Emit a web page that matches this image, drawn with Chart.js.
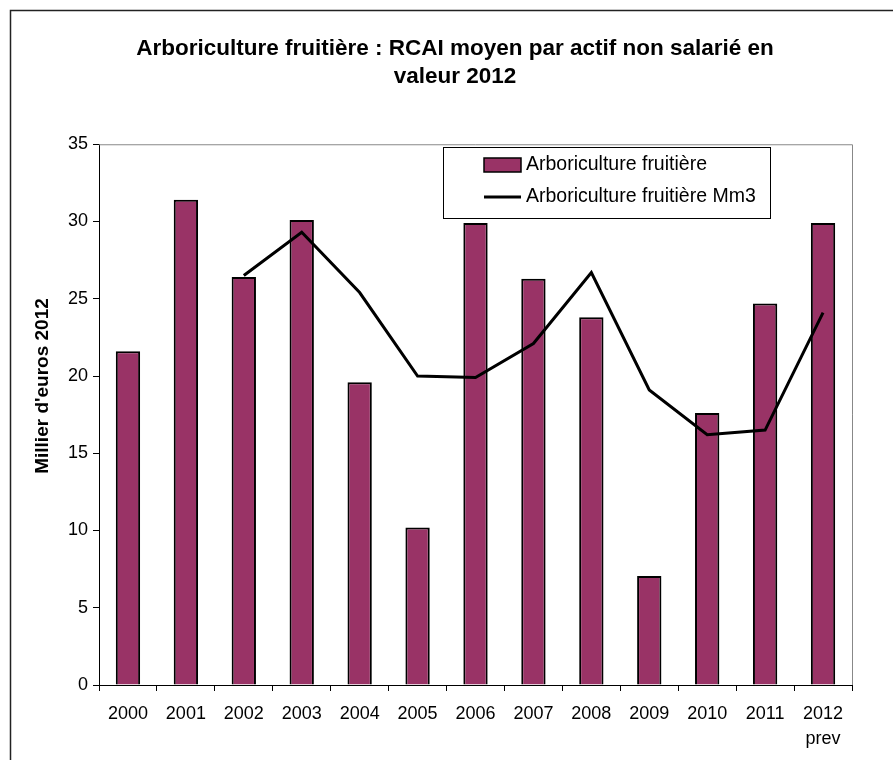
<!DOCTYPE html>
<html>
<head>
<meta charset="utf-8">
<script src="https://cdn.jsdelivr.net/npm/chart.js@4.4.1/dist/chart.umd.min.js"></script>
<style>
  html, body { margin: 0; padding: 0; background: #fff; }
  #wrap { width: 893px; height: 760px; position: relative; }
</style>
</head>
<body>
<div id="wrap"><canvas id="mycanvas" width="893" height="760"></canvas></div>
<script>
var annees = ["2000", "2001", "2002", "2003", "2004", "2005", "2006",
              "2007", "2008", "2009", "2010", "2011", ["2012", "prev"]];
var rcai = [21.6, 31.4, 26.4, 30.1, 19.6, 10.2, 29.9, 26.3, 23.8, 7.05, 17.6, 24.7, 29.9];
var moyenneMobile = [null, null, 26.5, 29.3, 25.4, 20.0, 19.9, 22.1, 26.7, 19.1, 16.2, 16.5, 24.1];
var titre = ["Arboriculture fruitière : RCAI moyen par actif non salarié en", "valeur 2012"];
var titreY = "Millier d'euros 2012";

var police = "'Liberation Sans', Arial, sans-serif";
Chart.defaults.font.family = police;
Chart.defaults.color = '#000';

// cadre, titre vertical, bord du graphique et legende
var decor = {
	id: 'decor',
	beforeDraw: function(chart) {
		var c = chart.ctx;
		c.save();
		c.fillStyle = '#fff';
		c.fillRect(0, 0, chart.width, chart.height);
		c.strokeStyle = '#222';
		c.lineWidth = 1.5;
		c.beginPath();
		c.moveTo(10.5, chart.height + 5);
		c.lineTo(10.5, 10.5);
		c.lineTo(chart.width + 5, 10.5);
		c.stroke();

		c.translate(43, 386);
		c.rotate(-Math.PI / 2);
		c.fillStyle = '#000';
		c.font = 'bold 19px ' + police;
		c.textAlign = 'center';
		c.textBaseline = 'middle';
		c.fillText(titreY, 0, 0);
		c.restore();
	},
	afterDatasetsDraw: function(chart) {
		var c = chart.ctx;
		var a = chart.chartArea;
		c.save();
		c.strokeStyle = '#888';
		c.lineWidth = 1;
		c.beginPath();
		c.moveTo(a.left, a.top + 0.5);
		c.lineTo(a.right + 0.5, a.top + 0.5);
		c.lineTo(a.right + 0.5, a.bottom);
		c.stroke();

		// legende
		var barres = chart.data.datasets[1];
		var courbe = chart.data.datasets[0];
		var lx = 443, ly = 147, lw = 327, lh = 71;
		c.fillStyle = '#fff';
		c.fillRect(lx, ly, lw, lh);
		c.strokeStyle = '#000';
		c.strokeRect(lx + 0.5, ly + 0.5, lw, lh);
		c.fillStyle = barres.backgroundColor;
		c.fillRect(484, 158, 37, 14);
		c.lineWidth = 1.5;
		c.strokeRect(484, 158, 37, 14);
		c.lineWidth = 3;
		c.beginPath();
		c.moveTo(484, 197);
		c.lineTo(521, 197);
		c.stroke();
		c.fillStyle = '#000';
		c.font = '19.5px ' + police;
		c.textBaseline = 'middle';
		c.fillText(barres.label, 526, 165);
		c.fillText(courbe.label, 526, 197);
		c.restore();
	}
};

var ctx = document.getElementById('mycanvas');

var graphe = new Chart(ctx, {
	data: {
		labels: annees,
		datasets: [
			{
				type: 'line',
				label: 'Arboriculture fruitière Mm3',
				data: moyenneMobile,
				borderColor: '#000',
				borderWidth: 3,
				pointRadius: 0,
				tension: 0,
				order: 0
			},
			{
				type: 'bar',
				label: 'Arboriculture fruitière',
				data: rcai,
				backgroundColor: '#993366',
				borderColor: '#000',
				borderWidth: 2,
				categoryPercentage: 1,
				barPercentage: 0.42,
				order: 1
			}
		]
	},
	options: {
		responsive: false,
		animation: false,
		layout: { padding: { left: 58, right: 41, top: 0, bottom: 0 } },
		plugins: {
			legend: { display: false },
			tooltip: { enabled: false },
			title: {
				display: true,
				text: titre,
				font: { size: 22.5, weight: 'bold', lineHeight: 1.25 },
				padding: { top: 35, bottom: 53 }
			}
		},
		scales: {
			x: {
				offset: true,
				border: { color: '#000', width: 1 },
				grid: { display: true, drawOnChartArea: false, color: '#000', tickLength: 6, offset: true },
				ticks: { font: { size: 18, lineHeight: 1.4 }, padding: 10, maxRotation: 0 },
				afterFit: function(s) { s.height = 75; }
			},
			y: {
				min: 0,
				max: 35,
				border: { color: '#000', width: 1 },
				grid: { drawOnChartArea: false, color: '#000', tickLength: 6 },
				ticks: { stepSize: 5, font: { size: 18 }, padding: 5 },
				afterFit: function(s) { s.width = 41; }
			}
		}
	},
	plugins: [decor]
});
</script>
</body>
</html>
